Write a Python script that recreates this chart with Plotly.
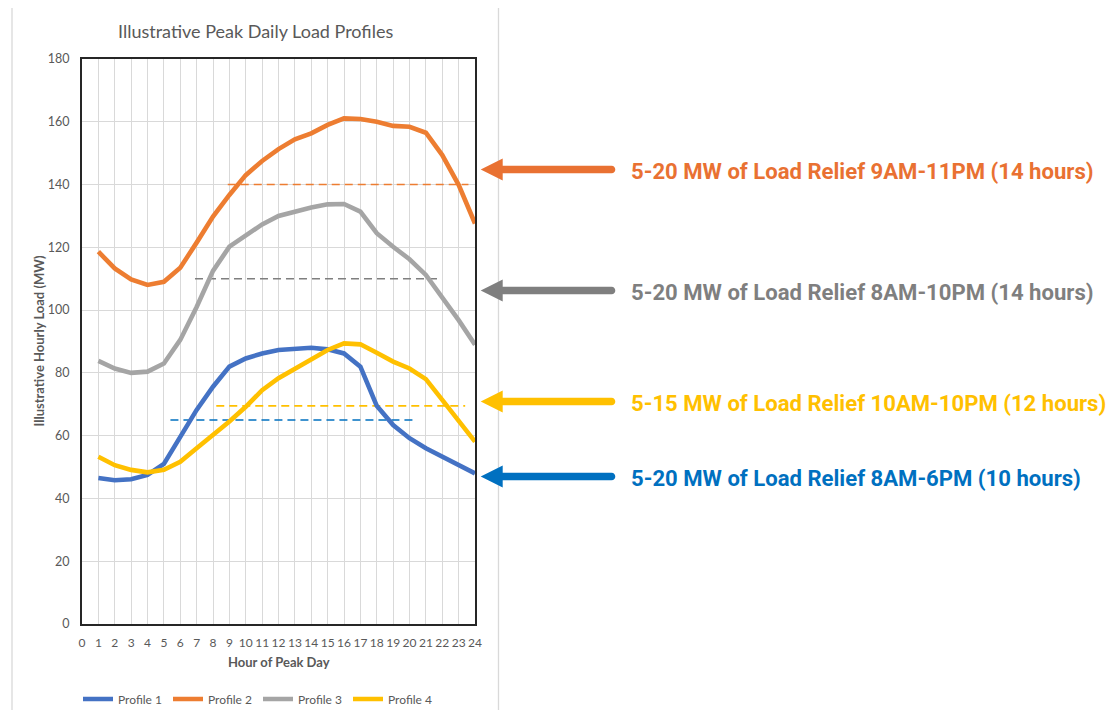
import plotly.graph_objects as go

# ---------------- data ----------------
hours = list(range(1, 25))
profile_names = ["Profile 1", "Profile 2", "Profile 3", "Profile 4"]
profile1 = [46.5, 45.8, 46.1, 47.5, 51.0, 59.5, 68.2, 75.6, 82.0, 84.6, 86.2, 87.3,
            87.8, 88.0, 87.5, 86.2, 82.0, 69.5, 63.4, 59.2, 56.0, 53.3, 50.5, 48.0]
profile2 = [118.6, 113.3, 109.8, 108.0, 109.0, 113.5, 121.5, 129.8, 136.7, 143.0, 147.5, 151.3,
            154.4, 156.3, 159.0, 161.1, 160.9, 160.0, 158.7, 158.4, 156.5, 149.4, 139.9, 127.6]
profile3 = [83.8, 81.4, 80.0, 80.4, 83.0, 90.5, 101.0, 112.5, 120.2, 123.9, 127.3, 130.0,
            131.4, 132.7, 133.7, 133.8, 131.4, 124.5, 120.2, 116.2, 111.2, 104.3, 96.8, 89.0]
profile4 = [53.3, 50.6, 49.1, 48.3, 49.1, 51.7, 56.0, 60.2, 64.5, 69.2, 74.5, 78.3,
            81.4, 84.3, 87.3, 89.4, 89.1, 86.4, 83.6, 81.4, 78.0, 71.4, 64.5, 58.1]
profiles = [profile1, profile2, profile3, profile4]

# relief target (dashed) lines, per profile
relief_level = [65.0, 140.0, 110.0, 69.5]
relief_start = [5.4, 8.9, 6.9, 8.2]
relief_end = [20.4, 23.6, 21.9, 23.4]

relief_text = [
    "5-20 MW of Load Relief 8AM-6PM (10 hours)",
    "5-20 MW of Load Relief 9AM-11PM (14 hours)",
    "5-20 MW of Load Relief 8AM-10PM (14 hours)",
    "5-15 MW of Load Relief 10AM-10PM (12 hours)",
]

y_ticks = list(range(0, 181, 20))
x_ticks = list(range(0, 25))

# ---------------- styles ----------------
series_colors = ["#4472C4", "#ED7D31", "#A5A5A5", "#FFC000"]
dash_colors = ["#0070C0", "#ED7D31", "#7F7F7F", "#FFC000"]
callout_colors = ["#0070C0", "#E97132", "#7F7F7F", "#FFC000"]
callout_y_px = [476.5, 169.5, 290.5, 401.5]

OFF = 8  # page body margin
W, H = 1119 - OFF, 718 - 2 * OFF
PL, PR, PT, PB = 82 - OFF, 475 - OFF, 59 - OFF, 624 - OFF  # plot area in figure pixels


def px(x):  # screen x -> paper
    return (x - OFF - PL) / (PR - PL)


def py(y):  # screen y -> paper
    return (PB - (y - OFF)) / (PB - PT)


text_grey = "#595959"
base_font = "Lato, Open Sans, sans-serif"

fig = go.Figure()

# dashed relief lines
for i in range(4):
    fig.add_trace(go.Scatter(
        x=[relief_start[i], relief_end[i]],
        y=[relief_level[i], relief_level[i]],
        mode="lines",
        line=dict(color=dash_colors[i], width=1.6, dash="8px,5px"),
        showlegend=False,
        hoverinfo="skip",
    ))

# profile lines
for i in range(4):
    fig.add_trace(go.Scatter(
        x=hours, y=profiles[i], name=profile_names[i],
        mode="lines",
        line=dict(color=series_colors[i], width=4.6),
    ))

shapes = []
# outer chart-area border (left, top, right)
for (x0, y0, x1, y1) in [(12, 6.5, 12, 740), (12, 6.5, 498.5, 6.5), (498.5, 6.5, 498.5, 740)]:
    shapes.append(dict(type="line", xref="paper", yref="paper",
                       x0=px(x0), y0=py(y0), x1=px(x1), y1=py(y1),
                       line=dict(color="#D9D9D9", width=1.3), layer="below"))

# arrows
for i in range(4):
    yc = callout_y_px[i]
    tip, base, tail = 480.7, 502.7, 611.5
    hh, sh, r = 11.0, 3.8, 3.8
    pts = [
        ("M", [(tip, yc)]),
        ("L", [(base, yc - hh)]),
        ("L", [(base, yc - sh)]),
        ("L", [(tail, yc - sh)]),
        ("C", [(tail + 1.33 * r, yc - sh), (tail + 1.33 * r, yc + sh), (tail, yc + sh)]),
        ("L", [(base, yc + sh)]),
        ("L", [(base, yc + hh)]),
    ]
    path = ""
    for cmd, ps in pts:
        path += cmd + " " + " ".join(f"{px(a):.5f},{py(b):.5f}" for a, b in ps) + " "
    path += "Z"
    shapes.append(dict(type="path", xref="paper", yref="paper", path=path,
                       fillcolor=callout_colors[i], line=dict(width=0)))

annotations = [
    dict(text="Illustrative Peak Daily Load Profiles", x=px(255), y=py(31),
         xref="paper", yref="paper", showarrow=False, xanchor="center", yanchor="middle",
         font=dict(family=base_font, size=18, color=text_grey)),
    dict(text="<b>Illustrative Hourly Load (MW)</b>", x=px(38), y=py(341.5),
         xref="paper", yref="paper", showarrow=False, xanchor="center", yanchor="middle",
         textangle=-90, font=dict(family=base_font, size=13, color=text_grey)),
    dict(text="<b>Hour of Peak Day</b>", x=px(278.5), y=py(662),
         xref="paper", yref="paper", showarrow=False, xanchor="center", yanchor="middle",
         font=dict(family=base_font, size=13, color=text_grey)),
]
for i in range(4):
    annotations.append(dict(
        text="<b>" + relief_text[i] + "</b>", x=px(629), y=py(callout_y_px[i] + 1),
        xref="paper", yref="paper", showarrow=False, xanchor="left", yanchor="middle",
        font=dict(family="Roboto, sans-serif", size=22.1, color=callout_colors[i]),
    ))

fig.update_layout(
    width=W, height=H, autosize=False,
    margin=dict(l=PL, r=W - PR, t=PT, b=H - PB, pad=0, autoexpand=False),
    paper_bgcolor="white", plot_bgcolor="white",
    font=dict(family=base_font, size=12, color=text_grey),
    shapes=shapes, annotations=annotations,
    showlegend=True,
    legend=dict(orientation="h", x=px(78), y=py(699), xanchor="left", yanchor="middle",
                font=dict(family=base_font, size=12, color=text_grey),
                entrywidth=45, entrywidthmode="pixels", itemwidth=30,
                bgcolor="rgba(0,0,0,0)", tracegroupgap=0),
)

fig.update_xaxes(
    range=[0, 24], tickmode="array", tickvals=x_ticks, ticktext=[str(v) for v in x_ticks],
    showgrid=True, gridcolor="#D9D9D9", gridwidth=1.3,
    showline=True, linecolor="#262626", linewidth=1.8, mirror=True,
    zeroline=False, ticks="", ticklabelstandoff=7, tickangle=0,
    tickfont=dict(family=base_font, size=12, color=text_grey),
)
fig.update_yaxes(
    range=[0, 180], tickmode="array", tickvals=y_ticks, ticktext=[str(v) for v in y_ticks],
    showgrid=True, gridcolor="#D9D9D9", gridwidth=1.3,
    showline=True, linecolor="#262626", linewidth=1.8, mirror=True,
    zeroline=False, ticks="", ticklabelstandoff=8,
    tickfont=dict(family=base_font, size=12.5, color=text_grey),
)

fig.write_html("out.html")
